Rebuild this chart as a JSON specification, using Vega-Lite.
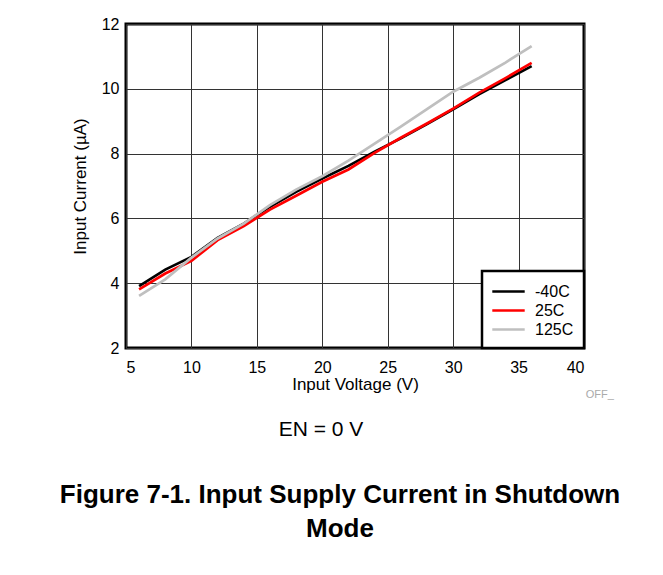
{
  "$schema": "https://vega.github.io/schema/vega-lite/v6.json",
  "width": 458,
  "height": 324,
  "autosize": "none",
  "padding": {"left": 126, "top": 24, "right": 79, "bottom": 227},
  "background": "white",
  "config": {
    "font": "Liberation Sans",
    "view": {"stroke": "black", "strokeWidth": 3},
    "axis": {
      "labelFont": "Liberation Sans",
      "titleFont": "Liberation Sans",
      "labelColor": "black",
      "titleColor": "black",
      "labelFontSize": 16,
      "titleFontSize": 17,
      "titleFontWeight": "normal",
      "domain": false,
      "ticks": false,
      "gridColor": "#333333",
      "gridWidth": 1,
      "gridOpacity": 1
    }
  },
  "title": {
    "text": ["Figure 7-1. Input Supply Current in Shutdown", "Mode"],
    "orient": "bottom",
    "anchor": "middle",
    "frame": "group",
    "font": "Liberation Sans",
    "fontSize": 26,
    "fontWeight": "bold",
    "color": "black",
    "lineHeight": 34,
    "offset": 42,
    "dx": -15
  },
  "data": {
    "values": [
      {"v": 6, "t": "-40C", "i": 3.91},
      {"v": 8, "t": "-40C", "i": 4.42},
      {"v": 10, "t": "-40C", "i": 4.81},
      {"v": 12, "t": "-40C", "i": 5.4},
      {"v": 14, "t": "-40C", "i": 5.84},
      {"v": 16, "t": "-40C", "i": 6.36},
      {"v": 18, "t": "-40C", "i": 6.82},
      {"v": 20, "t": "-40C", "i": 7.23},
      {"v": 22, "t": "-40C", "i": 7.62},
      {"v": 24, "t": "-40C", "i": 8.06},
      {"v": 26, "t": "-40C", "i": 8.47},
      {"v": 28, "t": "-40C", "i": 8.91},
      {"v": 30, "t": "-40C", "i": 9.37},
      {"v": 32, "t": "-40C", "i": 9.84},
      {"v": 34, "t": "-40C", "i": 10.27},
      {"v": 36, "t": "-40C", "i": 10.7},
      {"v": 6, "t": "25C", "i": 3.81},
      {"v": 8, "t": "25C", "i": 4.3},
      {"v": 10, "t": "25C", "i": 4.69},
      {"v": 12, "t": "25C", "i": 5.33},
      {"v": 14, "t": "25C", "i": 5.76},
      {"v": 16, "t": "25C", "i": 6.27},
      {"v": 18, "t": "25C", "i": 6.7},
      {"v": 20, "t": "25C", "i": 7.13},
      {"v": 22, "t": "25C", "i": 7.51},
      {"v": 24, "t": "25C", "i": 8.02},
      {"v": 26, "t": "25C", "i": 8.49},
      {"v": 28, "t": "25C", "i": 8.93},
      {"v": 30, "t": "25C", "i": 9.39},
      {"v": 32, "t": "25C", "i": 9.88},
      {"v": 34, "t": "25C", "i": 10.33},
      {"v": 36, "t": "25C", "i": 10.8},
      {"v": 6, "t": "125C", "i": 3.61},
      {"v": 8, "t": "125C", "i": 4.12},
      {"v": 10, "t": "125C", "i": 4.79},
      {"v": 12, "t": "125C", "i": 5.38},
      {"v": 14, "t": "125C", "i": 5.84},
      {"v": 16, "t": "125C", "i": 6.41},
      {"v": 18, "t": "125C", "i": 6.89},
      {"v": 20, "t": "125C", "i": 7.3},
      {"v": 22, "t": "125C", "i": 7.78},
      {"v": 24, "t": "125C", "i": 8.31},
      {"v": 26, "t": "125C", "i": 8.83},
      {"v": 28, "t": "125C", "i": 9.37},
      {"v": 30, "t": "125C", "i": 9.91},
      {"v": 32, "t": "125C", "i": 10.34},
      {"v": 34, "t": "125C", "i": 10.81},
      {"v": 36, "t": "125C", "i": 11.32}
    ]
  },
  "layer": [
    {
      "mark": {"type": "line", "strokeWidth": 2.7},
      "encoding": {
        "x": {
          "field": "v",
          "type": "quantitative",
          "title": "Input Voltage (V)",
          "scale": {"domain": [5, 40], "nice": false, "zero": false},
          "axis": {"values": [5, 10, 15, 20, 25, 30, 35, 40], "labelPadding": 11, "titlePadding": 1}
        },
        "y": {
          "field": "i",
          "type": "quantitative",
          "title": "Input Current (µA)",
          "scale": {"domain": [2, 12], "nice": false, "zero": false},
          "axis": {"values": [2, 4, 6, 8, 10, 12], "labelPadding": 7, "titlePadding": 12}
        },
        "color": {
          "field": "t",
          "type": "nominal",
          "scale": {"domain": ["-40C", "25C", "125C"], "range": ["#000000", "#ff0000", "#bfbfbf"]},
          "legend": {
            "title": null,
            "orient": "bottom-right",
            "offset": 0,
            "padding": 10,
            "fillColor": "white",
            "strokeColor": "black",
            "symbolType": "M-1.8,0H1.8",
            "symbolSize": 324,
            "symbolStrokeWidth": 2.7,
            "symbolOffset": 6,
            "labelFontSize": 16,
            "labelFont": "Liberation Sans",
            "labelColor": "black",
            "labelOffset": 16,
            "rowPadding": 0,
            "encode": {"legend": {"update": {"strokeWidth": {"value": 2.5}}}}
          }
        },
        "order": {"field": "v", "type": "quantitative"}
      }
    },
    {
      "data": {"values": [{"label": "EN = 0 V"}]},
      "mark": {"type": "text", "fontSize": 21, "font": "Liberation Sans", "color": "black", "clip": false, "align": "center", "baseline": "middle"},
      "encoding": {
        "x": {"datum": 19.9},
        "y": {"datum": -0.53},
        "text": {"field": "label"}
      }
    },
    {
      "data": {"values": [{"label": "OFF_"}]},
      "mark": {"type": "text", "fontSize": 11, "font": "Liberation Sans", "color": "#aaaaaa", "clip": false, "align": "center", "baseline": "middle"},
      "encoding": {
        "x": {"datum": 41.2},
        "y": {"datum": 0.55},
        "text": {"field": "label"}
      }
    }
  ]
}
